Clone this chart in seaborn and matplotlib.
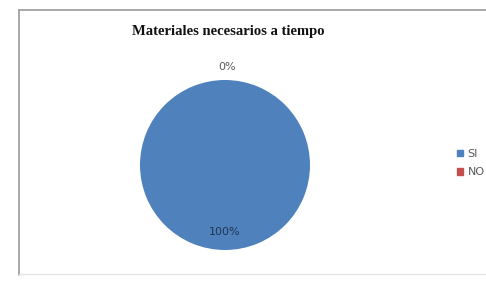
import matplotlib
matplotlib.use("Agg")
import matplotlib.pyplot as plt
import matplotlib.patches as mpatches
from matplotlib.lines import Line2D
import seaborn as sns

# chart data
categories = ["SI", "NO"]
values = [100, 0]
colors = ["#4F81BD", "#C0504D"]
title = "Materiales necesarios a tiempo"

sns.set_theme(style="white")
plt.rcParams['font.family'] = ['Liberation Serif', 'DejaVu Serif']

W, H = 486, 281
fig = plt.figure(figsize=(W / 100, H / 100), dpi=100)
fig.patch.set_facecolor("white")

# chart frame (left, top and bottom edges, right side runs off the image)
fig.add_artist(Line2D([19 / W, 1.0], [1 - 10 / H, 1 - 10 / H], color="#9a9a9a", lw=1.2))
fig.add_artist(Line2D([19 / W, 19 / W], [1 - 10 / H, 1 - 275 / H], color="#9a9a9a", lw=1.2))
fig.add_artist(Line2D([19 / W, 1.0], [1 - 274 / H, 1 - 274 / H], color="#e4e4e4", lw=1.0))

# pie axes: centre ~ (225,165) px, radius ~85 px
ax = fig.add_axes([140 / W, 1 - 250 / H, 170 / W, 170 / H])
wedges, texts, autotexts = ax.pie(
    values, colors=colors, startangle=90, counterclock=False,
    autopct="%1.0f%%", pctdistance=0.79,
    wedgeprops=dict(linewidth=0),
    textprops=dict(fontsize=8, family=["DejaVu Sans"]),
)
ax.set_xlim(-1, 1)
ax.set_ylim(-1, 1)
autotexts[0].set_color("#1f3550")
# zero slice label sits above the pie
autotexts[1].set_position((0.03, 1.15))
autotexts[1].set_color("#595959")

fig.text(228 / W, 1 - 32 / H, title, ha="center", va="center",
         fontsize=10.5, fontweight="bold", color="#111111")

handles = [mpatches.Patch(color=c, label=l) for c, l in zip(colors, categories)]
leg = fig.legend(handles=handles, loc="center left",
                 bbox_to_anchor=(451 / W, 1 - 163 / H), frameon=False,
                 handlelength=0.55, handleheight=0.55, handletextpad=0.45,
                 labelspacing=0.75, borderpad=0,
                 prop=dict(size=8, family="DejaVu Sans"))
for t in leg.get_texts():
    t.set_color("#595959")

fig.savefig("out.png", dpi=100)
